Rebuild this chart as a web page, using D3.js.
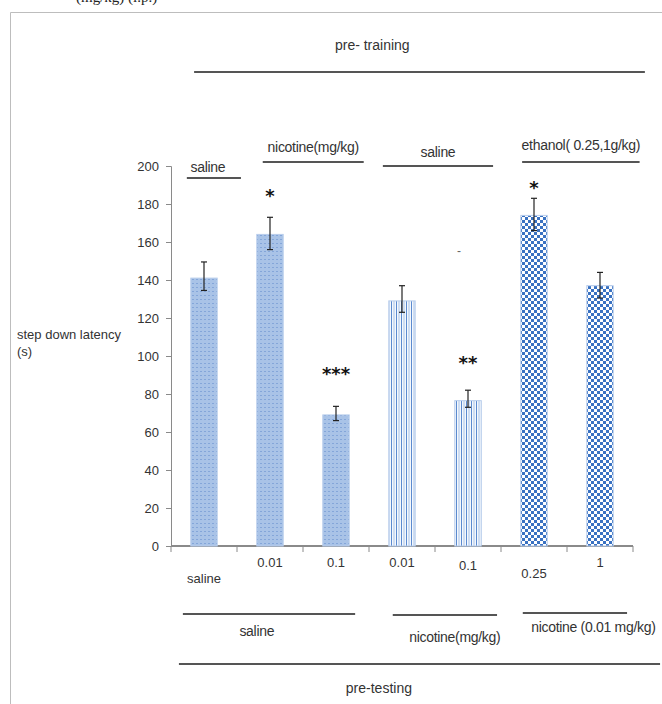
<!DOCTYPE html>
<html>
<head>
<meta charset="utf-8">
<script src="https://cdn.jsdelivr.net/npm/d3@7"></script>
<style>
  body { margin: 0; background: #fff; }
  text { font-family: "Liberation Sans Narrow", "Arial Narrow", "Liberation Sans", sans-serif; fill: #333; }
</style>
</head>
<body>
<div class="chart"></div>
<script>
const width = 662
const height = 704

// data
const categories = ["saline", "0.01", "0.1", "0.01", "0.1", "0.25", "1"]
const latency = [141, 164, 69, 129, 76.5, 174, 137]
const errHigh = [149.5, 173, 73.5, 137, 82, 183, 144]
const errLow = [134.5, 156, 66, 123, 73, 166, 130.5]
const stars = ["", "*", "***", "", "**", "*", ""]
const starLevel = [null, 186, 92, null, 98, 190, null]
const fills = ["dots", "dots", "dots", "stripes", "stripes", "checks", "checks"]
const yTicks = [0, 20, 40, 60, 80, 100, 120, 140, 160, 180, 200]

const topGroups = ["saline", "nicotine(mg/kg)", "saline", "ethanol( 0.25,1g/kg)"]
const bottomGroups = ["saline", "nicotine(mg/kg)", "nicotine (0.01 mg/kg)"]

const margin = { top: 166, left: 171, right: 29, bottom: 158 }
const innerW = width - margin.left - margin.right
const innerH = height - margin.top - margin.bottom

const svg = d3.select(".chart")
    .append("svg")
    .attr("width", width)
    .attr("height", height)

// patterns
const defs = svg.append("defs")

const dots = defs.append("pattern")
    .attr("id", "dots")
    .attr("patternUnits", "userSpaceOnUse")
    .attr("width", 4).attr("height", 4)
dots.append("rect").attr("width", 4).attr("height", 4).attr("fill", "#a9c3e7")
dots.append("rect").attr("x", 1).attr("y", 1).attr("width", 2).attr("height", 1).attr("fill", "#84a6d9")

const stripes = defs.append("pattern")
    .attr("id", "stripes")
    .attr("patternUnits", "userSpaceOnUse")
    .attr("width", 5).attr("height", 5)
stripes.append("rect").attr("width", 5).attr("height", 5).attr("fill", "#f4f8fd")
stripes.append("rect").attr("x", 0).attr("width", 1).attr("height", 5).attr("fill", "#5b8acf")
stripes.append("rect").attr("x", 2.5).attr("width", 1).attr("height", 5).attr("fill", "#a9c3e7")

const checks = defs.append("pattern")
    .attr("id", "checks")
    .attr("patternUnits", "userSpaceOnUse")
    .attr("width", 6).attr("height", 6)
checks.append("rect").attr("width", 6).attr("height", 6).attr("fill", "#3a72c2")
checks.append("rect").attr("x", 0).attr("y", 0).attr("width", 3).attr("height", 3).attr("fill", "#ffffff")
checks.append("rect").attr("x", 3).attr("y", 3).attr("width", 3).attr("height", 3).attr("fill", "#ffffff")

// frame round the figure
svg.append("path")
    .attr("d", `M10.5,${height} V12.5 H${width}`)
    .attr("fill", "none")
    .attr("stroke", "#bdbdbd")

// cut-off caption line above the frame
svg.append("text")
    .attr("x", 76).attr("y", 2)
    .style("font-family", "Liberation Serif, serif")
    .style("font-size", "15px")
    .style("fill", "#222")
    .text("(mg/kg) (i.p.)")

const g = svg.append("g")
    .attr("transform", `translate(${margin.left}, ${margin.top})`)

const x = d3.scaleBand()
    .domain(d3.range(categories.length))
    .range([0, innerW])
    .paddingInner(0.6)
    .paddingOuter(0.3)

const y = d3.scaleLinear()
    .domain([0, 200])
    .range([innerH, 0])

const step = x.step()
const edge = d => d * step  // category boundaries
const cx = i => x(i) + x.bandwidth() / 2

// y axis
const yAxis = g.append("g")
    .call(d3.axisLeft(y).tickValues(yTicks).tickSize(5).tickPadding(7))
yAxis.selectAll("text").style("font-size", "13px").style("fill", "#333")
yAxis.selectAll("line, path").attr("stroke", "#8a8a8a")

// x axis with boundary ticks
const xAxis = g.append("g").attr("transform", `translate(0, ${innerH})`)
xAxis.append("line")
    .attr("x1", 0).attr("x2", innerW)
    .attr("stroke", "#8a8a8a").attr("stroke-width", 2)
xAxis.selectAll(".bt")
    .data(d3.range(categories.length + 1))
    .enter().append("line")
    .attr("x1", edge).attr("x2", edge)
    .attr("y1", 0).attr("y2", 6)
    .attr("stroke", "#8a8a8a")

const labelDrop = [16, 0, 0, 0, 3, 11, 0]
xAxis.selectAll(".cl")
    .data(categories)
    .enter().append("text")
    .attr("x", (d, i) => cx(i))
    .attr("y", (d, i) => 21 + labelDrop[i])
    .attr("text-anchor", "middle")
    .style("font-size", "13px")
    .text(d => d)

// bars
g.selectAll(".bar")
    .data(latency)
    .enter().append("rect")
    .attr("x", (d, i) => x(i))
    .attr("y", d => y(d))
    .attr("width", x.bandwidth())
    .attr("height", d => innerH - y(d))
    .attr("fill", (d, i) => `url(#${fills[i]})`)
    .attr("stroke", "#b8cdec")
    .attr("stroke-width", 1)

// error bars
const eb = g.append("g").attr("stroke", "#222").attr("stroke-width", 1.2)
latency.forEach((v, i) => {
    eb.append("line").attr("x1", cx(i)).attr("x2", cx(i)).attr("y1", y(errHigh[i])).attr("y2", y(errLow[i]))
    eb.append("line").attr("x1", cx(i) - 3).attr("x2", cx(i) + 3).attr("y1", y(errHigh[i])).attr("y2", y(errHigh[i]))
    eb.append("line").attr("x1", cx(i) - 3).attr("x2", cx(i) + 3).attr("y1", y(errLow[i])).attr("y2", y(errLow[i]))
})

// significance marks
g.selectAll(".star")
    .data(d3.range(stars.length).filter(i => stars[i] !== ""))
    .enter().append("text")
    .attr("x", i => cx(i))
    .attr("y", i => y(starLevel[i]) + 9)
    .attr("text-anchor", "middle")
    .style("font-family", "DejaVu Sans, sans-serif")
    .style("font-size", "18px")
    .style("font-weight", "bold")
    .style("fill", "#111")
    .text(i => stars[i])

// stray mark above the fifth bar
g.append("text")
    .attr("x", cx(4) - 11).attr("y", y(153))
    .style("font-size", "12px").style("fill", "#666")
    .text("-")

// y axis title
svg.append("text")
    .attr("x", 17).attr("y", 339)
    .style("font-size", "13px")
    .text("step down latency")
svg.append("text")
    .attr("x", 17).attr("y", 356)
    .style("font-size", "13px")
    .text("(s)")

// group brackets, spans in category-boundary units
const topSpan = [[0.24, 1.06], [1.39, 2.92], [3.21, 4.88], [5.32, 7.1]]
const topBase = [6, -14, -9, -16]   // label baselines relative to chart top
const topLine = [12, -4, 0, -4]
topGroups.forEach((label, i) => {
    const [a, b] = topSpan[i]
    g.append("line")
        .attr("x1", edge(a)).attr("x2", edge(b))
        .attr("y1", topLine[i]).attr("y2", topLine[i])
        .attr("stroke", "#555").attr("stroke-width", 2)
    g.append("text")
        .attr("x", (edge(a) + edge(b)) / 2 - (i === 0 ? 6 : 0))
        .attr("y", topBase[i])
        .attr("text-anchor", "middle")
        .style("font-size", "14px")
        .style("letter-spacing", "-0.3px")
        .text(label)
})

const botSpan = [[0.18, 2.79], [3.36, 4.94], [5.33, 6.91]]
const botText = [[1.3, 90], [4.3, 96], [6.4, 86]]
const botLine = [68, 69, 67]
bottomGroups.forEach((label, i) => {
    const [a, b] = botSpan[i]
    g.append("line")
        .attr("x1", edge(a)).attr("x2", edge(b))
        .attr("y1", innerH + botLine[i]).attr("y2", innerH + botLine[i])
        .attr("stroke", "#555").attr("stroke-width", 2)
    g.append("text")
        .attr("x", edge(botText[i][0]))
        .attr("y", innerH + botText[i][1])
        .attr("text-anchor", "middle")
        .style("font-size", "14px")
        .style("letter-spacing", "-0.3px")
        .text(label)
})

// overall headings
g.append("line")
    .attr("x1", edge(0.35)).attr("x2", edge(7.18))
    .attr("y1", -94).attr("y2", -94)
    .attr("stroke", "#555").attr("stroke-width", 2)
g.append("text")
    .attr("x", edge(3.05)).attr("y", -116)
    .attr("text-anchor", "middle")
    .style("font-size", "14px")
    .text("pre- training")

g.append("line")
    .attr("x1", edge(0.12)).attr("x2", edge(7.41))
    .attr("y1", innerH + 118).attr("y2", innerH + 118)
    .attr("stroke", "#555").attr("stroke-width", 2)
g.append("text")
    .attr("x", edge(3.15)).attr("y", innerH + 147)
    .attr("text-anchor", "middle")
    .style("font-size", "14px")
    .text("pre-testing")
</script>
</body>
</html>
